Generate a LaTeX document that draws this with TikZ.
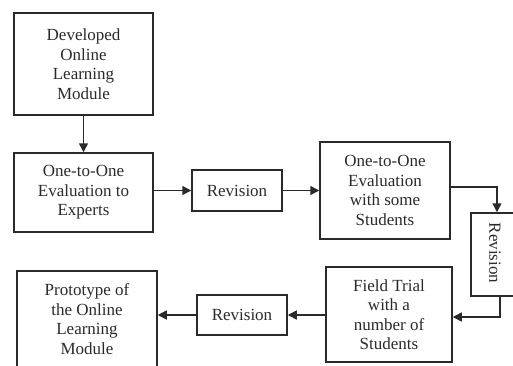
\documentclass[tikz,border=0pt]{standalone}
\usepackage{fontspec}
\setmainfont{Liberation Serif}
\usetikzlibrary{arrows.meta}
\definecolor{ink}{HTML}{2A2A2A}
\tikzset{
  box/.style={draw=ink, line width=1.5pt, text=ink, align=center, inner sep=0pt,
    font=\fontsize{17}{19.5}\selectfont},
  conn/.style={draw=ink, line width=1.5pt, -{Triangle[length=9pt,width=9pt]}}
}
\begin{document}
\begin{tikzpicture}[x=1pt,y=-1pt]
\useasboundingbox (0,0) rectangle (513,365);
\clip (0,0) rectangle (513,365);
\node[box, minimum width=139pt, minimum height=102pt] (b1) at (83.5,64) {Developed\\Online\\Learning\\Module};
\node[box, minimum width=139pt, minimum height=79pt] (b2) at (83.5,192.5) {One-to-One\\Evaluation to\\Experts};
\node[box, minimum width=90pt, minimum height=41pt] (r1) at (237,190.5) {Revision};
\node[box, minimum width=130pt, minimum height=97pt] (b3) at (385,190.5) {One-to-One\\Evaluation\\with some\\Students};
\node[box, minimum width=50pt, minimum height=83pt] (r2) at (496,254.5) {};
\node[text=ink, font=\fontsize{17}{19.5}\selectfont, rotate=-90, inner sep=0pt] (r2t) at (495,253) {Revision};
\node[box, minimum width=126pt, minimum height=95pt] (ft) at (389,314.5) {Field Trial\\with a\\number of\\Students};
\node[box, minimum width=90pt, minimum height=40pt] (r3) at (242,315) {Revision};
\node[box, minimum width=140pt, minimum height=96pt] (pr) at (87,319) {Prototype of\\the Online\\Learning\\Module};
\draw[conn] (b1.south) -- (b2.north);
\draw[conn] (b2.east |- r1.west) -- (r1.west);
\draw[conn] (r1.east) -- (b3.west |- r1.east);
\draw[conn] ([yshift=3.5pt]b3.east) -| ([xshift=1pt]r2.north);
\draw[conn] ([xshift=4pt]r2.south) |- ([yshift=-2.5pt]ft.east);
\draw[conn] (ft.west |- r3.east) -- (r3.east);
\draw[conn] (r3.west) -- (pr.east |- r3.west);
\end{tikzpicture}
\end{document}
